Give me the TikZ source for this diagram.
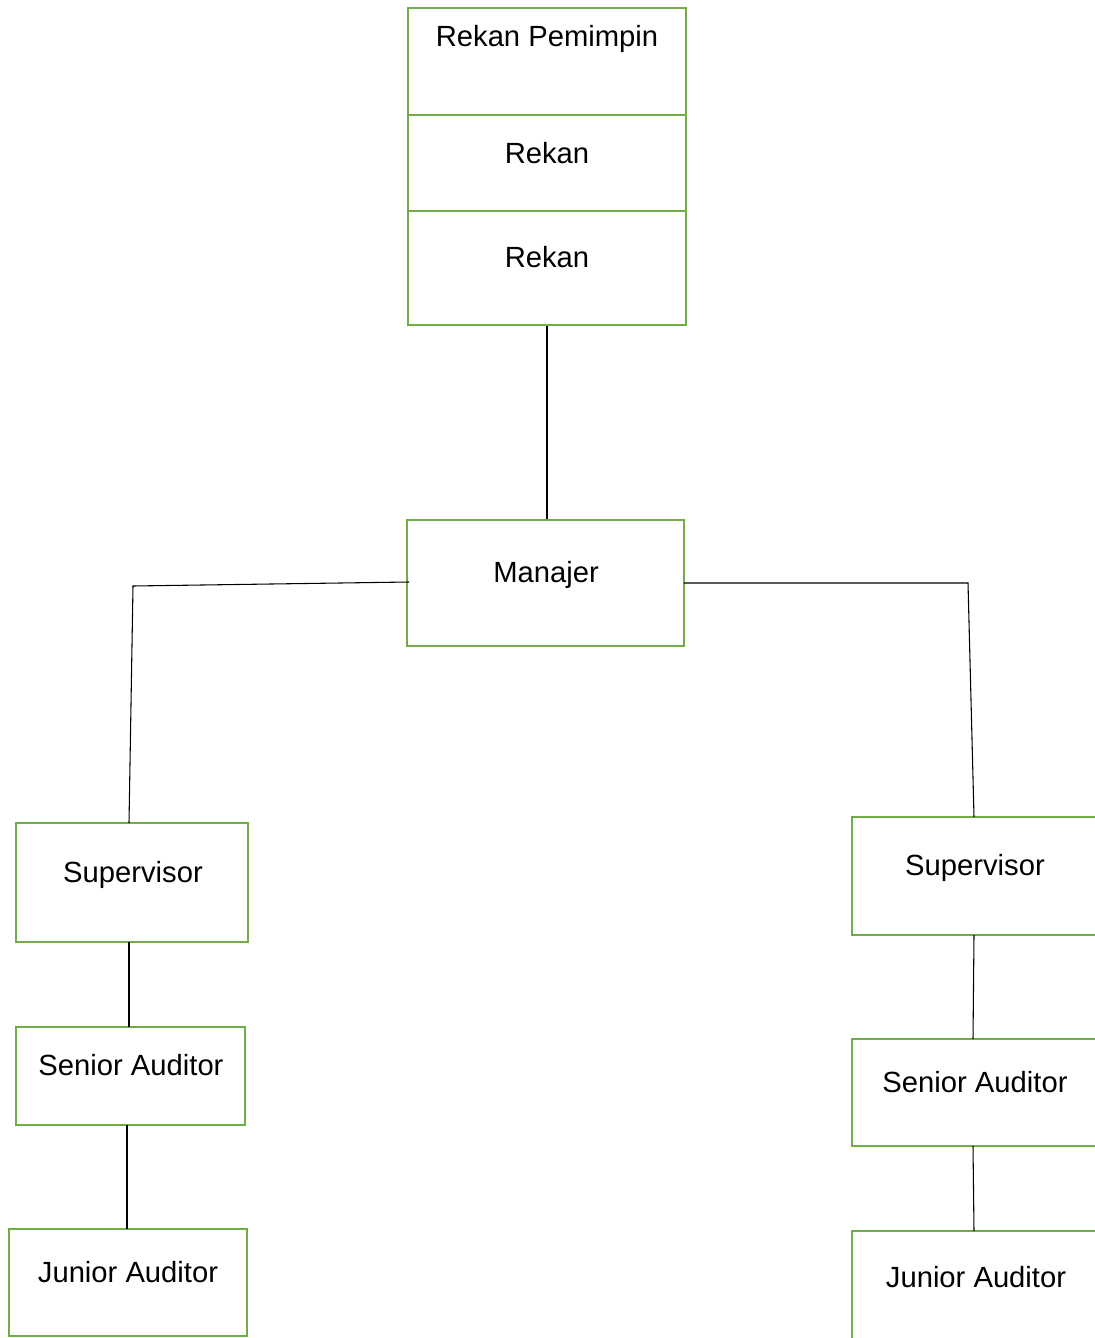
\documentclass[tikz,border=0pt]{standalone}
\usepackage{fontspec}
\setmainfont{Liberation Sans}
\usetikzlibrary{fit}
\definecolor{boxgreen}{HTML}{70AD47}
\tikzset{
  box/.style={draw=boxgreen, line width=1.9pt, inner sep=0pt, fill=none},
  lbl/.style={anchor=base, inner sep=0pt, font=\fontsize{21.9pt}{24pt}\selectfont},
  conn/.style={draw=black, line width=0.8pt}
}
\begin{document}
\begin{tikzpicture}[x=0.75pt,y=-0.75pt]
\useasboundingbox (0,0) rectangle (1095,1338);
\fill[white] (0,0) rectangle (1095,1338);
\begin{scope}
\clip (0,0) rectangle (1095,1338);
% top stack
\node[box, fit={(408,8)(686,115)}] (rp) {};
\node[box, fit={(408,115)(686,211)}] (r1) {};
\node[box, fit={(408,211)(686,325)}] (r2) {};
\node[lbl] (trp) at (547,47) {Rekan Pemimpin};
\node[lbl] (tr1) at (547,163) {Rekan};
\node[lbl] (tr2) at (547,267) {Rekan};
% manager
\node[box, fit={(407,520)(684,646)}] (mgr) {};
\node[lbl] (tmgr) at (546,582) {Manajer};
% left column
\node[box, fit={(16,823)(248,942)}] (lsup) {};
\node[lbl] (tlsup) at (133,882) {Supervisor};
\node[box, fit={(16,1027)(245,1125)}] (lsen) {};
\node[lbl] (tlsen) at (131,1075) {Senior Auditor};
\node[box, fit={(9,1229)(247,1336)}] (ljun) {};
\node[lbl] (tljun) at (128,1282) {Junior Auditor};
% right column
\node[box, fit={(852,817)(1110,935)}] (rsup) {};
\node[lbl] (trsup) at (975,875) {Supervisor};
\node[box, fit={(852,1039)(1110,1146)}] (rsen) {};
\node[lbl] (trsen) at (975,1092) {Senior Auditor};
\node[box, fit={(852,1231)(1110,1360)}] (rjun) {};
\node[lbl] (trjun) at (976,1287) {Junior Auditor};
% bend coordinates
\coordinate (lb) at (133,586);
\coordinate (rb) at (968,583);
% connectors
\draw[conn] (r2.south) -- (mgr.north -| r2.south);
\draw[conn] (409,582) -- (lb) -- (129,823);
\draw[conn] (684,583) -- (rb) -- (974,817);
\draw[conn] (129,942) -- (129,1027);
\draw[conn] (127,1125) -- (127,1229);
\draw[conn] (974,935) -- (973,1039);
\draw[conn] (973,1146) -- (974,1231);
\end{scope}
\end{tikzpicture}
\end{document}
